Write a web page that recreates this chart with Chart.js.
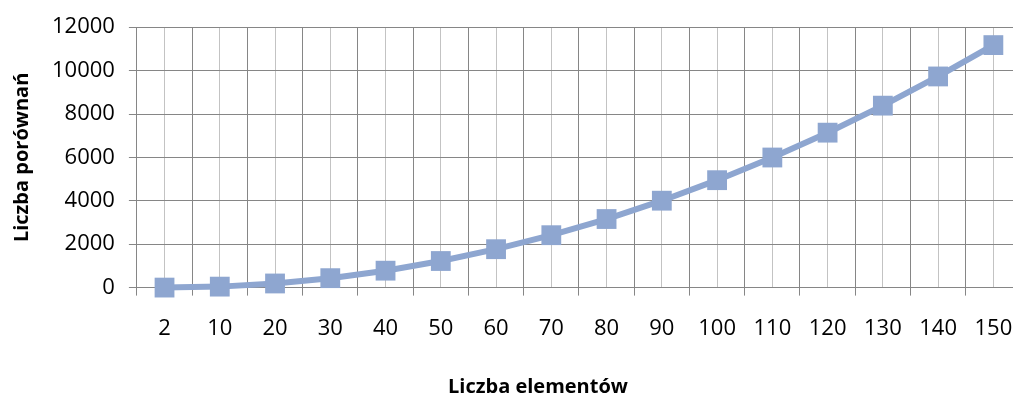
<!DOCTYPE html>
<html>
<head>
<meta charset="utf-8">
<script src="https://cdn.jsdelivr.net/npm/chart.js@4"></script>
<style>
  html, body { margin: 0; padding: 0; background: #fff; overflow: hidden; }
  #wrap { width: 1013px; height: 401px; overflow: hidden; position: relative; }
  #chart { position: absolute; left: 0; top: 0; display: block; width: 1035px; height: 401px; }
</style>
</head>
<body>
<div id="wrap"><canvas id="chart" width="1035" height="401"></canvas></div>
<script>
const categories = ["2", "10", "20", "30", "40", "50", "60", "70", "80", "90", "100", "110", "120", "130", "140", "150"]
const comparisons = [1, 45, 190, 435, 780, 1225, 1770, 2415, 3160, 4005, 4950, 5995, 7140, 8385, 9730, 11175]
const yTicks = [0, 2000, 4000, 6000, 8000, 10000, 12000]

const font = "'Open Sans', 'Noto Sans', sans-serif"
const dark = "#868686"
const light = "#c3c3c3"
const blue = "#8ea6d0"

// x title sits under the visible part of the chart, not under the (clipped) plot centre
const xTitle = {
  id: "xTitle",
  afterDraw(chart) {
    const ctx = chart.ctx
    ctx.save()
    ctx.font = `bold 20px ${font}`
    ctx.fillStyle = "#000"
    ctx.textAlign = "center"
    ctx.textBaseline = "middle"
    ctx.fillText("Liczba elementów", 538, 387)
    ctx.restore()
  }
}

new Chart(document.getElementById("chart"), {
  type: "line",
  data: {
    labels: categories,
    datasets: [{
      data: comparisons,
      borderColor: blue,
      backgroundColor: blue,
      borderWidth: 6,
      pointStyle: "rect",
      pointRadius: 14,
      pointHoverRadius: 14,
      pointBorderWidth: 0,
      tension: 0,
      clip: false
    }]
  },
  options: {
    responsive: false,
    animation: false,
    events: [],
    layout: { padding: { top: 4, right: 0, bottom: 39, left: 10 } },
    plugins: { legend: { display: false }, tooltip: { enabled: false } },
    scales: {
      x: {
        offset: true,
        grid: { offset: true, color: dark, tickColor: dark, tickLength: 8 },
        border: { display: false },
        ticks: { color: "#000", font: { family: font, size: 22 }, padding: 20, maxRotation: 0, autoSkip: false }
      },
      xMinor: {
        type: "category",
        labels: categories,
        position: "bottom",
        offset: true,
        grid: { offset: false, color: light, drawTicks: false },
        border: { display: false },
        ticks: { display: false },
        afterFit: s => { s.height = 0 }
      },
      y: {
        min: 0,
        max: 12000,
        afterBuildTicks: s => { s.ticks = yTicks.map(v => ({ value: v })) },
        grid: { color: dark, tickColor: dark, tickLength: 8 },
        border: { display: false },
        ticks: { color: "#000", font: { family: font, size: 22 }, padding: 14, callback: v => String(v) },
        title: {
          display: true,
          text: "Liczba porównań",
          color: "#000",
          font: { family: font, size: 20, weight: "bold" },
          padding: { top: 0, bottom: 4 }
        }
      }
    }
  },
  plugins: [xTitle]
})
</script>
</body>
</html>
